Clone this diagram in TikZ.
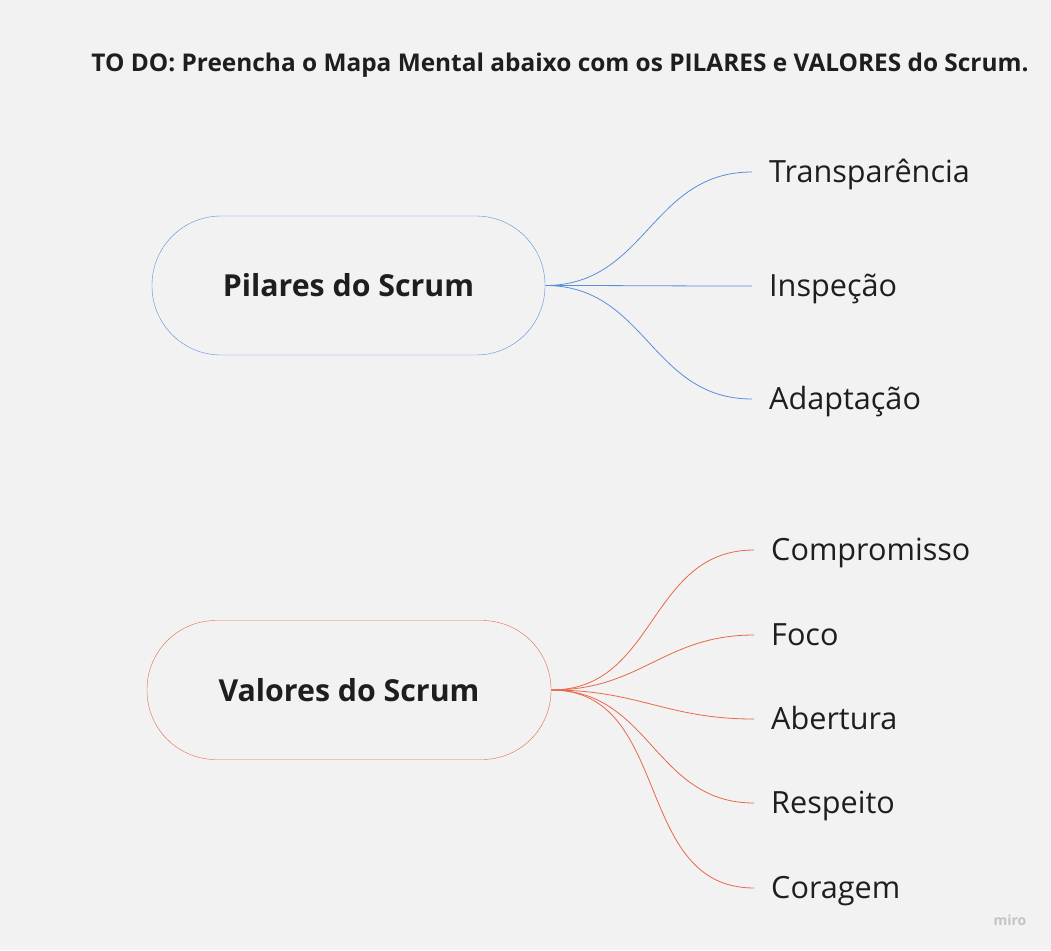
\documentclass[tikz,border=0pt]{standalone}
\usepackage{fontspec}
\setmainfont{Open Sans}
\usepackage{tikz}
\usetikzlibrary{positioning}
\pgfdeclarelayer{background}
\pgfsetlayers{background,main}

\definecolor{boardgray}{HTML}{F2F2F2}
\definecolor{textdark}{HTML}{1E1E1E}
\definecolor{pilarblue}{HTML}{5A8EDC}
\definecolor{valorred}{HTML}{E8684A}
\definecolor{logogray}{HTML}{C4C4C4}

\begin{document}
\begin{tikzpicture}[x=1pt,y=1pt,
				rootnode/.style={rectangle, rounded corners=69pt, fill=boardgray, text=textdark,
					font=\fontsize{30.3}{34}\selectfont\bfseries, minimum height=139pt},
				leafnode/.style={anchor=west, inner xsep=17pt, inner ysep=0pt, text=textdark,
					font=\fontsize{30.6}{34}\selectfont, text height=21pt, text depth=0pt},
				pilarline/.style={draw=pilarblue, line width=0.8pt, out=0, in=180, looseness=1.1},
				valorline/.style={draw=valorred, line width=0.8pt, out=0, in=180, looseness=1.1},
				]
				\useasboundingbox (0,0) rectangle (1051,-950);

				%Title
				\node[text=textdark, font=\fontsize{24.4}{28}\selectfont\bfseries] (title) at (560,-65)
					{TO DO: Preencha o Mapa Mental abaixo com os PILARES e VALORES do Scrum.};

				%Nodes
				\node[rootnode, draw=pilarblue, minimum width=393pt] (pilares) at (348.5,-285.5) {Pilares do Scrum};
				\node[rootnode, draw=valorred, minimum width=404pt]  (valores) at (349,-690)     {Valores do Scrum};

				\node[leafnode]      (transp)  	at 	(752,-172)      {Transparência};
				\node[leafnode]      (inspec)  	at 	(752,-286)      {Inspeção};
				\node[leafnode]      (adapt)   	at 	(752,-399)      {Adaptação};

				\node[leafnode]      (compr)   	at 	(754,-550)      {Compromisso};
				\node[leafnode]      (foco)    	at 	(754,-635)      {Foco};
				\node[leafnode]      (abert)   	at 	(754,-719)      {Abertura};
				\node[leafnode]      (respe)   	at 	(754,-803)      {Respeito};
				\node[leafnode]      (corag)   	at 	(754,-888)      {Coragem};

				\node[text=logogray, font=\fontsize{14}{16}\selectfont\bfseries] (logo) at (1010,-920) {miro};

				\begin{pgfonlayer}{background}
				\fill[boardgray] (0,0) rectangle (1051,-950);
				%Lines
				\draw[pilarline] (pilares.east) to (transp.west);
				\draw[pilarline] (pilares.east) to (inspec.west);
				\draw[pilarline] (pilares.east) to (adapt.west);

				\draw[valorline] (valores.east) to (compr.west);
				\draw[valorline] (valores.east) to (foco.west);
				\draw[valorline] (valores.east) to (abert.west);
				\draw[valorline] (valores.east) to (respe.west);
				\draw[valorline] (valores.east) to (corag.west);
				\end{pgfonlayer}
			\end{tikzpicture}
\end{document}
